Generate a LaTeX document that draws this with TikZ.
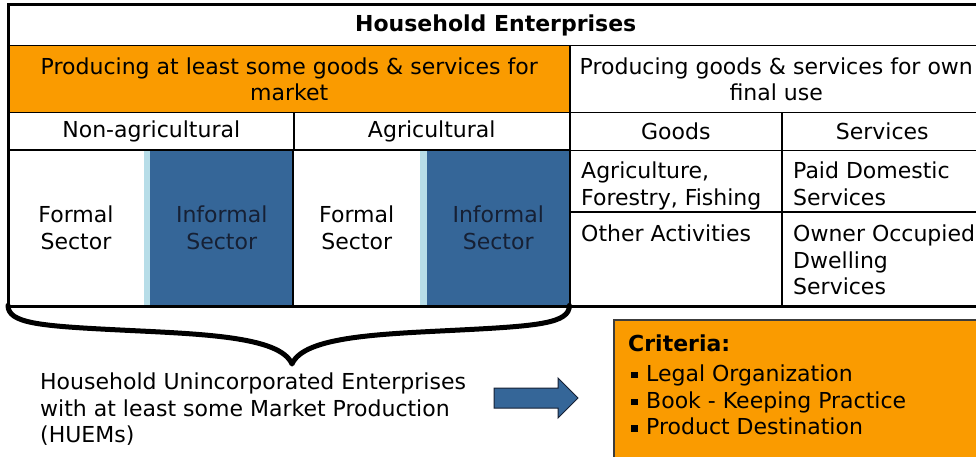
\documentclass[tikz,border=0pt]{standalone}
\usepackage{fontspec}
\setmainfont{DejaVu Sans}
\usepackage{tikz}
\usetikzlibrary{positioning}
\definecolor{mktorange}{RGB}{250,155,0}
\definecolor{infblue}{RGB}{53,102,152}
\definecolor{stripeblue}{RGB}{183,221,232}
\definecolor{inftext}{RGB}{22,32,52}
\definecolor{boxline}{RGB}{60,60,60}
\newcommand{\cellfont}{\fontsize{22}{26.5}\selectfont}
\newcommand{\critem}[1]{\makebox[18pt][l]{\hspace{3pt}\rule[3pt]{6.5pt}{6.5pt}}#1}

\begin{document}
\begin{tikzpicture}[x=1pt, y=-1pt,
  every node/.style={font=\cellfont, inner sep=0pt},
  cell/.style={draw, line width=1.5pt, anchor=north west, align=center},
  fillcell/.style={anchor=north west, align=center},
  toptext/.style={anchor=north west, align=left},
  gridline/.style={line width=1.5pt},
  brace/.style={line width=5pt, line cap=round, line join=round},
  blockarrow/.style={draw=inftext, line width=1pt, fill=infblue}]
  \useasboundingbox (0,0) rectangle (976,457);
  \clip (0,0) rectangle (976,457);

  % header rows
  \node[cell, font=\cellfont\bfseries, minimum width=974pt, minimum height=40pt] (title) at (8,5) {Household Enterprises};
  \node[cell, fill=mktorange, minimum width=561pt, minimum height=67pt] (market) at (8,45) {Producing at least some goods \& services for\\market};
  \node[cell, minimum width=413pt, minimum height=67pt] (ownuse) at (569,45) {Producing goods \& services for own\\final use};
  \node[cell, minimum width=285pt, minimum height=38pt] (nonagr) at (8,112) {Non-agricultural};
  \node[cell, minimum width=276pt, minimum height=38pt] (agr) at (293,112) {Agricultural};
  \node[cell, minimum width=212pt, minimum height=38pt] (goods) at (569,112) {Goods};
  \node[cell, minimum width=201pt, minimum height=38pt] (services) at (781,112) {Services};

  % market part
  \node[fillcell, minimum width=135.5pt, minimum height=155pt] (formalA) at (8,150) {Formal\\Sector};
  \node[fillcell, fill=stripeblue, minimum width=6.5pt, minimum height=155pt] (stripeA) at (143.5,150) {};
  \node[fillcell, fill=infblue, text=inftext, minimum width=143pt, minimum height=155pt] (informalA) at (150,150) {Informal\\Sector};
  \node[fillcell, minimum width=127pt, minimum height=155pt] (formalB) at (293,150) {Formal\\Sector};
  \node[fillcell, fill=stripeblue, minimum width=7pt, minimum height=155pt] (stripeB) at (420,150) {};
  \node[fillcell, fill=infblue, text=inftext, minimum width=142pt, minimum height=155pt] (informalB) at (427,150) {Informal\\Sector};
  \draw[gridline] (formalA.north west) rectangle (informalA.south east);
  \draw[gridline] (formalB.north west) rectangle (informalB.south east);

  % own final use part
  \node[cell, minimum width=212pt, minimum height=61pt] (agrcell) at (569,150) {};
  \node[cell, minimum width=201pt, minimum height=61pt] (paidcell) at (781,150) {};
  \node[cell, minimum width=212pt, minimum height=94pt] (othercell) at (569,211) {};
  \node[cell, minimum width=201pt, minimum height=94pt] (ownercell) at (781,211) {};
  \node[toptext] (agrtext) at ([xshift=12pt, yshift=-12pt]agrcell.north west) {Agriculture,\\Forestry, Fishing};
  \node[toptext] (paidtext) at ([xshift=12pt, yshift=-12pt]paidcell.north west) {Paid Domestic\\Services};
  \node[toptext] (othertext) at ([xshift=12pt, yshift=-14pt]othercell.north west) {Other Activities};
  \node[toptext] (ownertext) at ([xshift=12pt, yshift=-14pt]ownercell.north west) {Owner Occupied\\Dwelling\\Services};

  \draw[line width=3pt] (title.north west) rectangle (ownercell.south east);

  % brace under market part
  \coordinate (braceTip) at (292,364);
  \draw[brace] (formalA.south west) .. controls +(0,18) and (40,326) .. (120,330)
    .. controls (200,334) and (280,336) .. (braceTip)
    .. controls (304,336) and (382,334) .. (460,330)
    .. controls (538,326) and +(0,18) .. (informalB.south east);

  \node[toptext] (huems) at (40,373) {Household Unincorporated Enterprises\\with at least some Market Production\\(HUEMs)};

  % arrow and criteria
  \coordinate (arrowTail) at (494,398);
  \draw[blockarrow] (arrowTail) ++(0,-10) -- ++(64,0) -- ++(0,-10) -- ++(20,20)
    -- ++(-20,20) -- ++(0,-10) -- ++(-64,0) -- cycle;

  \node[anchor=north west, draw=boxline, line width=2pt, fill=mktorange,
    minimum width=380pt, minimum height=150pt] (critbox) at (613,319) {};
  \node[toptext, font=\fontsize{22}{26.8}\selectfont] (crittext) at ([xshift=15pt, yshift=-15.5pt]critbox.north west)
    {\textbf{Criteria:}\\[3pt]\critem{Legal Organization}\\\critem{Book - Keeping Practice}\\\critem{Product Destination}};
\end{tikzpicture}
\end{document}
